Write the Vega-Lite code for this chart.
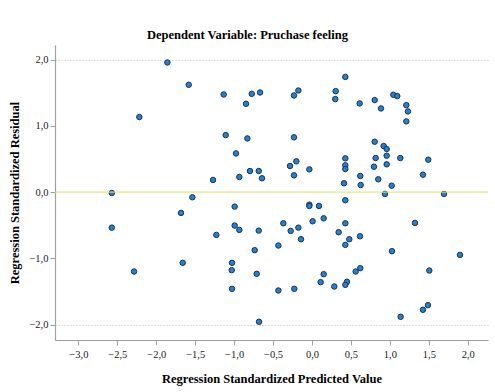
{
  "$schema": "https://vega.github.io/schema/vega-lite/v6.json",
  "autosize": "none",
  "width": 433,
  "height": 295,
  "padding": {"left": 55, "top": 45, "right": 7, "bottom": 52},
  "background": "white",
  "title": {
    "text": "Dependent Variable: Pruchase feeling",
    "font": "Liberation Serif",
    "fontSize": 12.5,
    "fontWeight": "bold",
    "color": "#000000",
    "anchor": "middle",
    "dx": -24,
    "offset": 4
  },
  "config": {
    "view": {"stroke": null},
    "axis": {
      "labelFont": "Liberation Serif",
      "labelFontSize": 10.5,
      "labelColor": "#222222",
      "titleFont": "Liberation Serif",
      "titleFontSize": 12.5,
      "titleFontWeight": "bold",
      "titleColor": "#000000",
      "domainColor": "#a0a0a0",
      "tickColor": "#a0a0a0",
      "tickSize": 5,
      "domainWidth": 1.2
    }
  },
  "datasets": {
    "pts": [
      {"pred": -1.857, "res": 1.956}, {"pred": -1.583, "res": 1.62}, {"pred": -1.134, "res": 1.474},
      {"pred": -0.774, "res": 1.483}, {"pred": -0.667, "res": 1.504}, {"pred": -0.847, "res": 1.333},
      {"pred": -2.217, "res": 1.133}, {"pred": -1.108, "res": 0.861}, {"pred": -0.83, "res": 0.811},
      {"pred": -0.976, "res": 0.585}, {"pred": -0.796, "res": 0.319}, {"pred": -0.684, "res": 0.319},
      {"pred": -0.933, "res": 0.229}, {"pred": -0.642, "res": 0.209}, {"pred": -1.271, "res": 0.184},
      {"pred": 0.428, "res": 1.739}, {"pred": -0.175, "res": 1.534}, {"pred": -0.231, "res": 1.459},
      {"pred": 0.304, "res": 1.524}, {"pred": 0.299, "res": 1.404}, {"pred": 0.612, "res": 1.339},
      {"pred": 0.805, "res": 1.389}, {"pred": 0.886, "res": 1.263}, {"pred": 1.044, "res": 1.469},
      {"pred": 1.095, "res": 1.449}, {"pred": 1.211, "res": 1.313}, {"pred": 1.232, "res": 1.218},
      {"pred": 1.211, "res": 1.068}, {"pred": -0.231, "res": 0.827}, {"pred": 0.805, "res": 0.761},
      {"pred": 0.92, "res": 0.696}, {"pred": 0.959, "res": 0.651}, {"pred": 0.959, "res": 0.55},
      {"pred": 0.817, "res": 0.515}, {"pred": 1.134, "res": 0.515}, {"pred": 1.493, "res": 0.49},
      {"pred": 0.428, "res": 0.51}, {"pred": 0.428, "res": 0.405}, {"pred": 0.428, "res": 0.349},
      {"pred": -0.201, "res": 0.465}, {"pred": -0.282, "res": 0.395}, {"pred": -0.034, "res": 0.344},
      {"pred": -0.231, "res": 0.254}, {"pred": 0.796, "res": 0.384}, {"pred": 0.959, "res": 0.42},
      {"pred": 1.425, "res": 0.264}, {"pred": 0.411, "res": 0.134}, {"pred": 0.62, "res": 0.244},
      {"pred": 0.625, "res": 0.108}, {"pred": 0.851, "res": 0.194}, {"pred": 1.023, "res": 0.098},
      {"pred": -2.571, "res": -0.012}, {"pred": -2.571, "res": -0.535}, {"pred": -1.536, "res": -0.077},
      {"pred": -1.682, "res": -0.313}, {"pred": -0.993, "res": -0.218}, {"pred": -0.993, "res": -0.504},
      {"pred": -0.933, "res": -0.569}, {"pred": -0.684, "res": -0.58}, {"pred": -1.228, "res": -0.645},
      {"pred": -0.736, "res": -0.875}, {"pred": -0.432, "res": -0.805}, {"pred": -1.66, "res": -1.066},
      {"pred": -1.027, "res": -1.066}, {"pred": -1.031, "res": -1.176}, {"pred": -0.71, "res": -1.232},
      {"pred": -2.285, "res": -1.197}, {"pred": -1.027, "res": -1.458}, {"pred": -0.432, "res": -1.483},
      {"pred": -0.68, "res": -1.955},
      {"pred": 0.937, "res": -0.027}, {"pred": 1.695, "res": -0.027}, {"pred": -0.034, "res": -0.188},
      {"pred": -0.034, "res": -0.208}, {"pred": 0.09, "res": -0.208}, {"pred": 0.428, "res": -0.122},
      {"pred": -0.368, "res": -0.469}, {"pred": 0.008, "res": -0.439}, {"pred": 0.15, "res": -0.394},
      {"pred": 0.428, "res": -0.469}, {"pred": -0.274, "res": -0.584}, {"pred": -0.175, "res": -0.535},
      {"pred": -0.141, "res": -0.71}, {"pred": 0.342, "res": -0.604}, {"pred": 0.479, "res": -0.71},
      {"pred": 0.428, "res": -0.795}, {"pred": 0.616, "res": -0.665}, {"pred": 1.322, "res": -0.464},
      {"pred": 1.027, "res": -0.89}, {"pred": 1.9, "res": -0.946}, {"pred": 0.62, "res": -1.146},
      {"pred": 0.561, "res": -1.197}, {"pred": 0.15, "res": -1.237}, {"pred": 0.111, "res": -1.357},
      {"pred": 0.286, "res": -1.423}, {"pred": 0.449, "res": -1.352}, {"pred": 0.428, "res": -1.398},
      {"pred": -0.227, "res": -1.458}, {"pred": 1.506, "res": -1.182}, {"pred": 1.489, "res": -1.704},
      {"pred": 1.425, "res": -1.774}, {"pred": 1.138, "res": -1.88}
    ],
    "zero": [{"res": 0}]
  },
  "layer": [
    {
      "data": {"name": "pts"},
      "mark": {"type": "point", "shape": "circle", "filled": true, "size": 30, "fill": "#2680cc", "stroke": "#1b3452", "strokeWidth": 1, "opacity": 1},
      "encoding": {
        "x": {
          "field": "pred", "type": "quantitative",
          "scale": {"domain": [-3.3, 2.26], "nice": false, "zero": false},
          "axis": {
            "title": "Regression Standardized Predicted Value",
            "values": [-3, -2.5, -2, -1.5, -1, -0.5, 0, 0.5, 1, 1.5, 2],
            "labelExpr": "replace(format(datum.value, '.1f'), '.', ',')",
            "grid": false,
            "labelPadding": 4,
            "titlePadding": 13
          }
        },
        "y": {
          "field": "res", "type": "quantitative",
          "scale": {"domain": [-2.23, 2.22], "nice": false, "zero": false},
          "axis": {
            "title": "Regression Standardized Residual",
            "values": [-2, -1.5, -1, -0.5, 0, 0.5, 1, 1.5, 2],
            "labelExpr": "replace(format(datum.value, '.1f'), '.', ',')",
            "grid": true,
            "gridColor": "#c0c0c0",
            "gridDash": [1, 2],
            "gridOpacity": {"condition": {"test": "abs(datum.value) == 2", "value": 1}, "value": 0},
            "labelPadding": 2,
            "titlePadding": 7
          }
        }
      }
    },
    {
      "data": {"name": "zero"},
      "mark": {"type": "rule", "color": "#e2e26a", "strokeWidth": 1.3, "opacity": 0.85},
      "encoding": {"y": {"field": "res", "type": "quantitative"}}
    }
  ]
}
